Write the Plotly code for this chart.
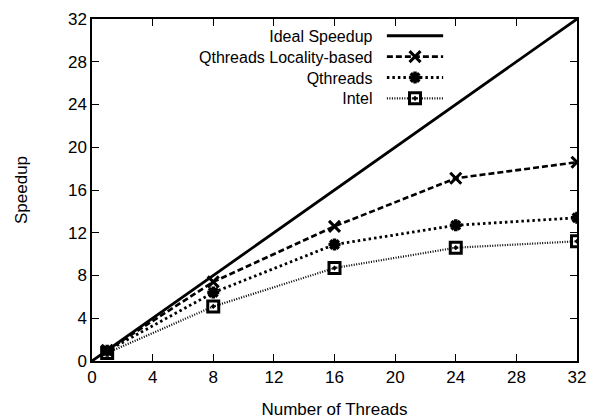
import plotly.graph_objects as go

threads = [1, 8, 16, 24, 32]
ideal_x = [0, 32]
ideal_y = [0, 32]
locality = [1.0, 7.4, 12.6, 17.1, 18.6]
qthreads = [0.95, 6.4, 10.9, 12.7, 13.4]
intel = [0.75, 5.1, 8.7, 10.6, 11.2]
tick_vals = [0, 4, 8, 12, 16, 20, 24, 28, 32]

series_names = ["Ideal Speedup", "Qthreads Locality-based", "Qthreads", "Intel"]

FAMILY = "Liberation Sans, Arial, Helvetica, sans-serif"
FONT = dict(family=FAMILY, size=17, color="black")
LEG_FONT = dict(family=FAMILY, size=16, color="black")

styles = [
    dict(line=dict(color="black", width=2.8, dash="solid"), symbol=None),
    dict(line=dict(color="black", width=2.6, dash="6px,3px"),
         symbol=dict(symbol="x-thin-open", size=11, color="black", line=dict(color="black", width=3))),
    dict(line=dict(color="black", width=2.8, dash="2.5px,3px"),
         symbol=dict(symbol="asterisk-open", size=10, color="black", line=dict(color="black", width=3.5))),
    dict(line=dict(color="black", width=2.2, dash="1px,1.5px"),
         symbol=dict(symbol="square-open-dot", size=11, color="black", line=dict(color="black", width=3))),
]

fig = go.Figure()

fig.add_trace(go.Scatter(x=ideal_x, y=ideal_y, mode="lines", line=styles[0]["line"],
                         showlegend=False, hoverinfo="skip"))
for vals, st in zip([locality, qthreads, intel], styles[1:]):
    fig.add_trace(go.Scatter(x=threads, y=vals, mode="lines+markers", line=st["line"],
                             marker=st["symbol"], showlegend=False))

# Custom legend (text left of sample, as in gnuplot): one right-aligned text block
leg_center_y = 0.859
leg_rows_y = [0.951, 0.890, 0.829, 0.768]
leg_text_x = 0.5835
leg_x0, leg_xm, leg_x1 = 0.608, 0.666, 0.724
fig.add_annotation(x=leg_text_x, y=leg_center_y, xref="paper", yref="paper",
                   text="<br>".join(series_names), align="right",
                   showarrow=False, xanchor="right", yanchor="middle", font=LEG_FONT)
for st, ly in zip(styles, leg_rows_y):
    fig.add_trace(go.Scatter(x=[leg_x0, leg_x1], y=[ly, ly], xaxis="x2", yaxis="y2",
                             mode="lines", line=st["line"], showlegend=False, hoverinfo="skip"))
    if st["symbol"] is not None:
        fig.add_trace(go.Scatter(x=[leg_xm], y=[ly], xaxis="x2", yaxis="y2",
                                 mode="markers", marker=st["symbol"], showlegend=False,
                                 hoverinfo="skip"))

axis_common = dict(
    range=[0, 32], tickvals=tick_vals, ticks="inside", ticklen=7, tickwidth=1.2,
    tickcolor="black", showline=True, linecolor="black", linewidth=1.5, mirror="ticks",
    showgrid=False, zeroline=False, tickfont=FONT, automargin=False,
)

fig.update_layout(
    width=600, height=419,
    margin=dict(l=92, r=23, t=19, b=58),
    paper_bgcolor="white", plot_bgcolor="white",
    font=FONT,
    xaxis=dict(**axis_common, title=dict(text="Number of Threads", font=FONT, standoff=18)),
    yaxis=dict(**axis_common, title=dict(text="Speedup", font=FONT, standoff=36)),
    xaxis2=dict(range=[0, 1], overlaying="x", visible=False),
    yaxis2=dict(range=[0, 1], overlaying="y", visible=False),
    showlegend=False,
)

fig.write_html("out.html")
